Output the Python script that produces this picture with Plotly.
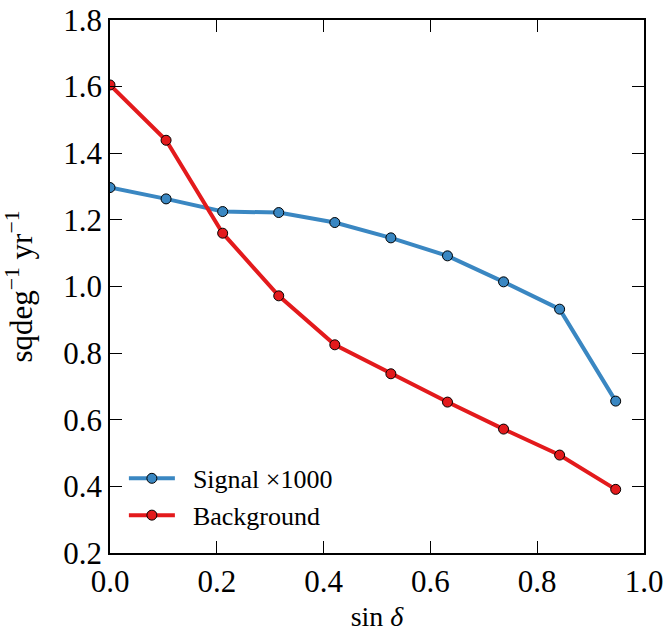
import numpy as np
import plotly.graph_objects as go

sin_dec = [0.0, 0.105, 0.211, 0.316, 0.421, 0.526, 0.632, 0.737, 0.842, 0.947]
signal_x1000 = [1.297, 1.263, 1.225, 1.222, 1.192, 1.146, 1.092, 1.014, 0.932, 0.656]
background = [1.605, 1.439, 1.160, 0.972, 0.825, 0.738, 0.653, 0.572, 0.494, 0.391]

x_ticks = [0.0, 0.2, 0.4, 0.6, 0.8, 1.0]
y_ticks = [0.2, 0.4, 0.6, 0.8, 1.0, 1.2, 1.4, 1.6, 1.8]

FONT = "Liberation Serif, DejaVu Serif, serif"
NB = "\u00a0\u00a0"

fig = go.Figure()
fig.add_trace(go.Scatter(
    x=sin_dec, y=signal_x1000, mode="lines+markers", name=NB + "Signal ×1000",
    line=dict(color="#3a87c2", width=4),
    marker=dict(size=10, color="#3a87c2", line=dict(color="black", width=1)),
))
fig.add_trace(go.Scatter(
    x=sin_dec, y=background, mode="lines+markers", name=NB + "Background",
    line=dict(color="#e31a1c", width=4),
    marker=dict(size=10, color="#e31a1c", line=dict(color="black", width=1)),
))

axis_common = dict(
    showline=True, linecolor="black", linewidth=1.5, mirror="ticks",
    ticks="inside", ticklen=12, tickwidth=1, tickcolor="black",
    showgrid=False, zeroline=False, automargin=False,
    tickfont=dict(family=FONT, size=31, color="black"),
)

fig.update_xaxes(range=[0, 1.0], tickvals=x_ticks, ticktext=[f"{v:.1f}" for v in x_ticks],
                 title=dict(text="sin <i>δ</i>", font=dict(family=FONT, size=28, color="black"), standoff=12),
                 **axis_common)
fig.update_yaxes(range=[0.2, 1.8], tickvals=y_ticks, ticktext=[f"{v:.1f}" for v in y_ticks],
                 title=dict(text="sqdeg<sup>−1</sup> yr<sup>−1</sup>", font=dict(family=FONT, size=31, color="black"), standoff=30),
                 **axis_common)

fig.update_layout(
    width=665, height=632,
    margin=dict(l=110, r=21, t=20, b=79),
    plot_bgcolor="white", paper_bgcolor="white",
    font=dict(family=FONT, size=26, color="black"),
    legend=dict(x=0.026, y=0.184, xanchor="left", yanchor="top",
                bgcolor="rgba(0,0,0,0)", font=dict(family=FONT, size=26, color="black"),
                itemwidth=46, tracegroupgap=0),
    showlegend=True,
)

fig.write_html("out.html", config={"displayModeBar": False},
               post_script="document.body.style.margin='0';document.body.style.padding='0';")
